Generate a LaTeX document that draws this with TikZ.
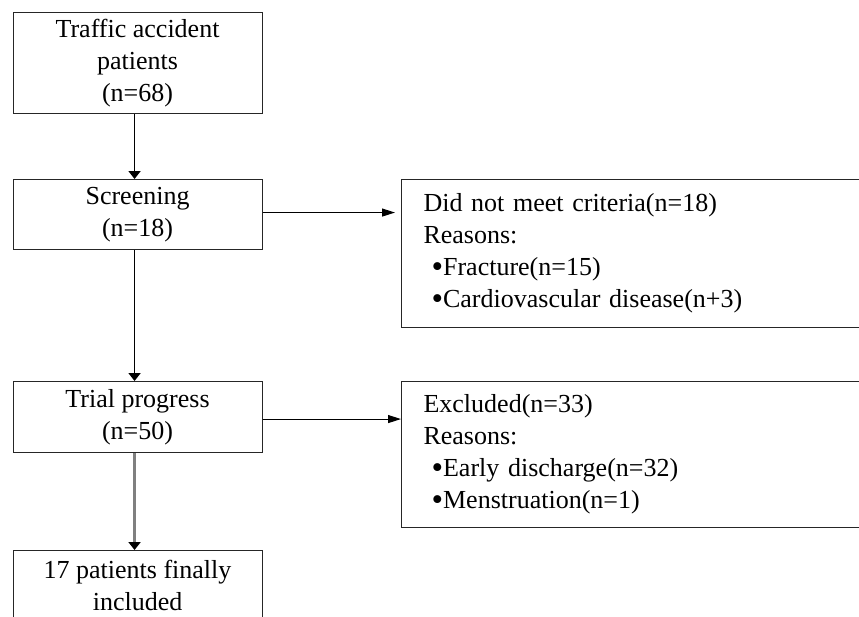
\documentclass[tikz,border=0pt]{standalone}
\usepackage{fontspec}
\setmainfont{Liberation Serif}
\usetikzlibrary{arrows.meta}

\newcommand\listdot{\hspace*{8pt}\smash{\raisebox{-1.5pt}{\fontsize{33}{32}\selectfont\textbullet}}}

\begin{document}
\begin{tikzpicture}[x=1pt,y=-1pt,
    flowbox/.style={draw=black!85,line width=1.1pt,minimum width=249pt,inner sep=0pt,
      align=center,anchor=north west,font=\fontsize{26}{32}\selectfont},
    reasonbox/.style={draw=black!85,line width=1.1pt,text width=416pt,inner xsep=22pt,
      inner ysep=0pt,align=left,anchor=north west,font=\fontsize{26}{32}\selectfont},
    downarrow/.style={line width=1.8pt,-{Triangle[length=8pt,width=12pt]}},
    sidearrow/.style={line width=1.1pt,-{Triangle[length=13pt,width=8pt]}}]

    \useasboundingbox (0,0) rectangle (859,616);
    \clip (0,0) rectangle (859,616);



    \node[flowbox,minimum height=101pt] (patients) at (12.5,12) {Traffic accident\\patients\\(n=68)};

    \node[flowbox,minimum height=70pt] (screening) at (12.5,179) {Screening\\(n=18)};

    \node[flowbox,minimum height=71pt] (progress) at (12.5,381) {Trial progress\\(n=50)};

    \node[flowbox,minimum height=70pt] (included) at (12.5,550) {17 patients finally\\included};




    \node[reasonbox,minimum height=148pt] (criteria) at (401,179) {Did not meet criteria(n=18)\\Reasons:\\
      \listdot Fracture(n=15)\\\listdot Cardiovascular disease(n+3)};

    \node[reasonbox,minimum height=146pt] (excluded) at (401,381) {Excluded(n=33)\\Reasons:\\
      \listdot Early discharge(n=32)\\\listdot Menstruation(n=1)};




    \draw[downarrow] ([xshift=-3pt]patients.south) -- ([xshift=-3pt]screening.north);

    \draw[downarrow] ([xshift=-3pt]screening.south) -- ([xshift=-3pt]progress.north);

    \draw[line width=3.5pt,draw=black!50,-{Triangle[length=8pt,width=12pt,color=black]}]
      ([xshift=-3pt]progress.south) -- ([xshift=-3pt]included.north);



    \draw[sidearrow,shorten >=6pt] ([yshift=2pt]screening.east) -- ([yshift=2pt]screening.east -| criteria.west);

    \draw[sidearrow] ([yshift=-2pt]progress.east) -- ([yshift=-2pt]progress.east -| excluded.west);

  \end{tikzpicture}
\end{document}
